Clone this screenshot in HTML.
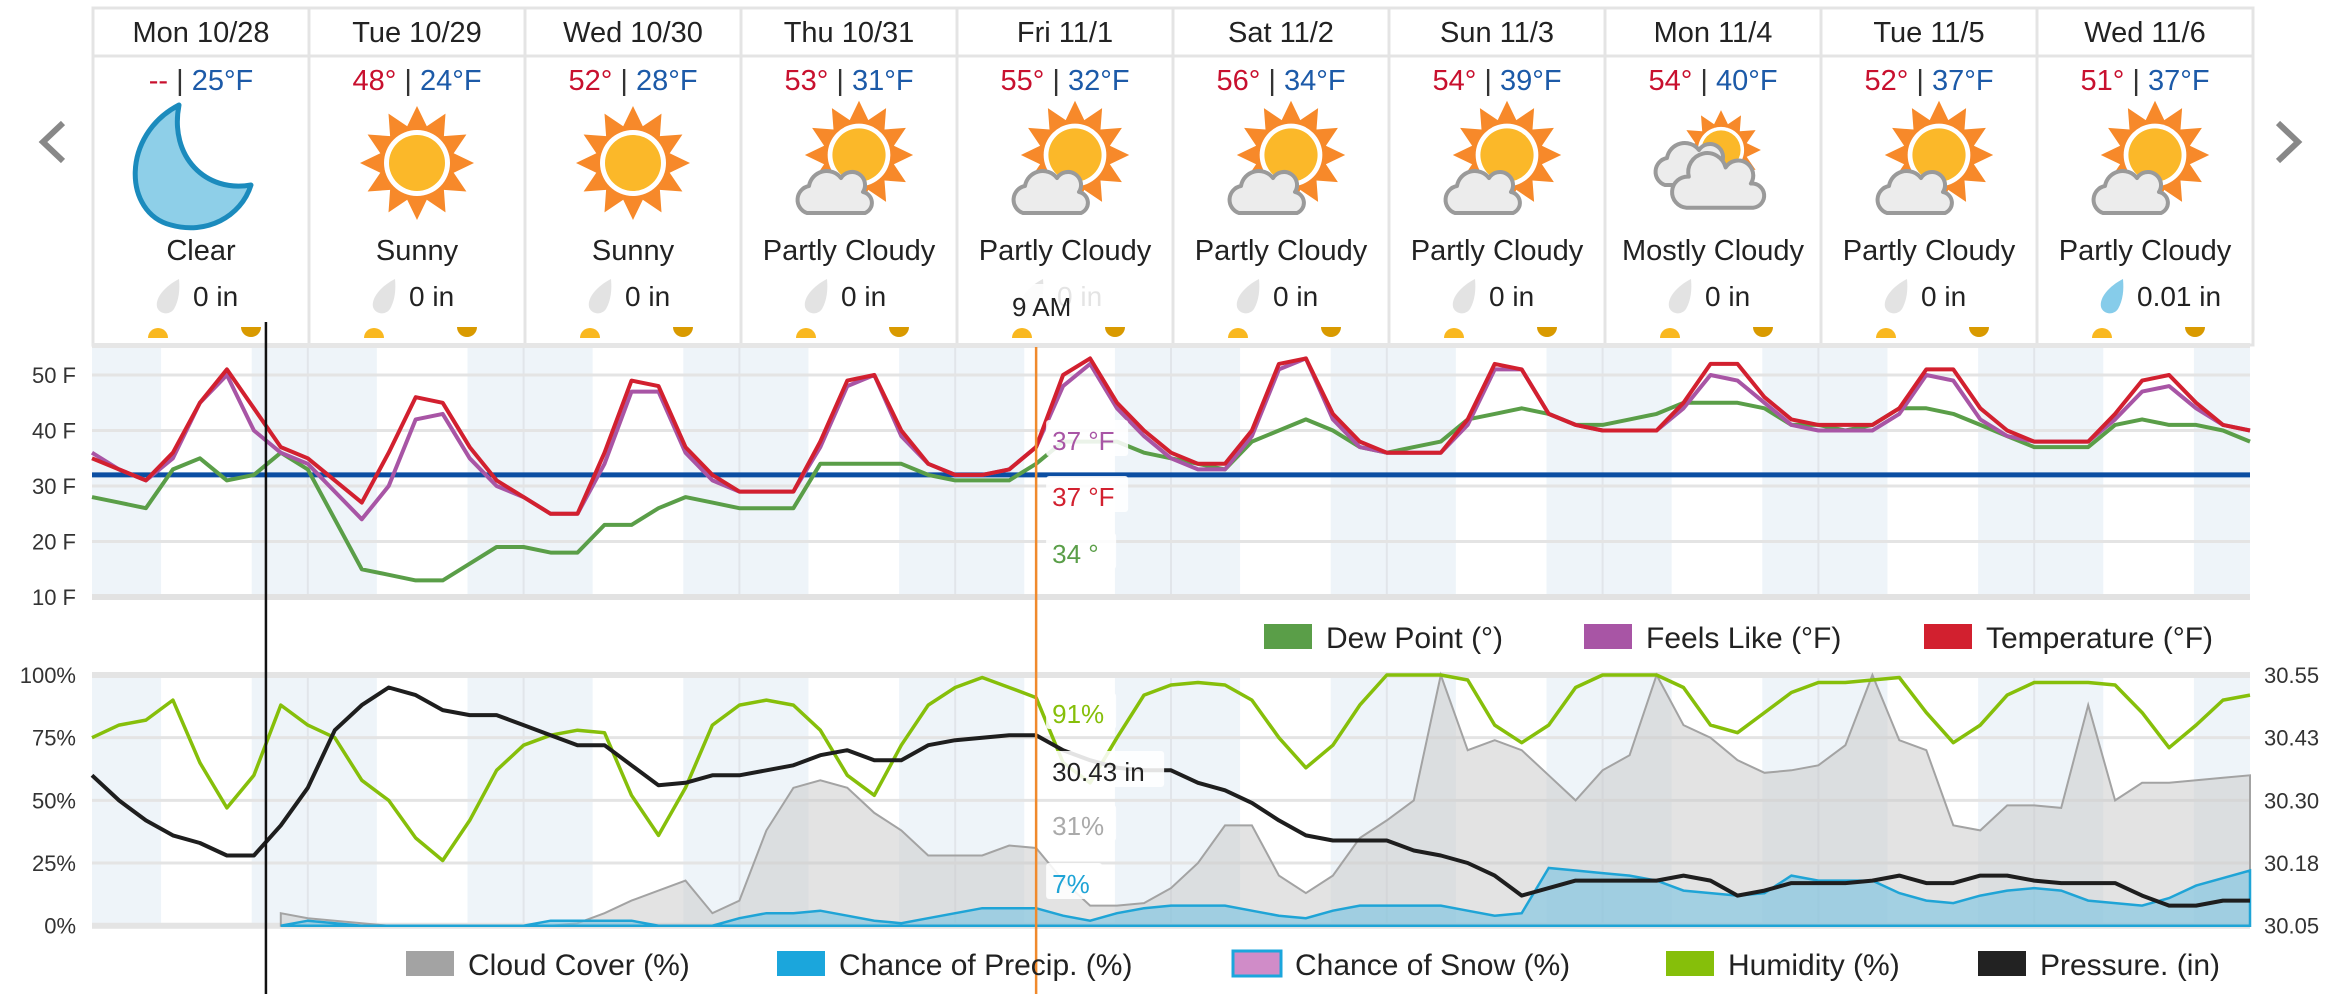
<!DOCTYPE html>
<html><head><meta charset="utf-8">
<style>
html,body{margin:0;padding:0;background:#fff;}
body{width:2342px;height:994px;position:relative;overflow:hidden;font-family:"Liberation Sans",sans-serif;}
svg{position:absolute;left:0;top:0;}
text{font-family:"Liberation Sans",sans-serif;}
</style></head>
<body>
<svg id="chart" width="2342" height="994" viewBox="0 0 2342 994"></svg>
<script>
// ---------- header data ----------
const dayNames=["Mon 10/28","Tue 10/29","Wed 10/30","Thu 10/31","Fri 11/1","Sat 11/2","Sun 11/3","Mon 11/4","Tue 11/5","Wed 11/6"];
const highs=["--","48°","52°","53°","55°","56°","54°","54°","52°","51°"];
const lows=["25°F","24°F","28°F","31°F","32°F","34°F","39°F","40°F","37°F","37°F"];
const conds=["Clear","Sunny","Sunny","Partly Cloudy","Partly Cloudy","Partly Cloudy","Partly Cloudy","Mostly Cloudy","Partly Cloudy","Partly Cloudy"];
const precipAmt=["0 in","0 in","0 in","0 in","0 in","0 in","0 in","0 in","0 in","0.01 in"];
// ---------- series, 3-hourly from Mon 10/28 00:00 ----------
const temperature=[35,33,31,36,45,51,44,37, 35,31,27,36,46,45,37,31, 28,25,25,36,49,48,37,32, 29,29,29,38,49,50,40,34, 32,32,33,37,50,53,45,40, 36,34,34,40,52,53,43,38, 36,36,36,42,52,51,43,41, 40,40,40,45,52,52,46,42, 41,41,41,44,51,51,44,40, 38,38,38,43,49,50,45,41, 40];
const feelsLike=[36,33,31,35,45,50,40,36, 34,29,24,30,42,43,35,30, 28,25,25,34,47,47,36,31, 29,29,29,37,48,50,39,34, 32,32,33,37,48,52,44,39, 35,33,33,39,51,53,42,37, 36,36,36,41,51,51,43,41, 40,40,40,44,50,49,45,41, 40,40,40,43,50,49,42,39, 38,38,38,42,47,48,44,41, 40];
const dewPoint=[28,27,26,33,35,31,32,36, 33,24,15,14,13,13,16,19, 19,18,18,23,23,26,28,27, 26,26,26,34,34,34,34,32, 31,31,31,34,38,38,38,36, 35,34,33,38,40,42,40,37, 36,37,38,42,43,44,43,41, 41,42,43,45,45,45,44,41, 41,40,41,44,44,43,41,39, 37,37,37,41,42,41,41,40, 38];
const humidity=[75,80,82,90,65,47,60,88, 80,75,58,50,35,26,42,62, 72,76,78,77,52,36,55,80, 88,90,88,78,60,52,72,88, 95,99,95,91,65,57,75,92, 96,97,96,90,75,63,72,88, 100,100,100,98,80,73,80,95, 100,100,100,95,80,77,85,93, 97,97,98,99,85,73,80,92, 97,97,97,96,85,71,80,90, 92];
const pressure=[30.35,30.30,30.26,30.23,30.215,30.19,30.19,30.25, 30.325,30.44,30.49,30.525,30.51,30.48,30.47,30.47, 30.45,30.43,30.41,30.41,30.37,30.33,30.335,30.35, 30.35,30.36,30.37,30.39,30.40,30.38,30.38,30.41, 30.42,30.425,30.43,30.43,30.40,30.38,30.365,30.36, 30.36,30.335,30.32,30.295,30.26,30.23,30.22,30.22, 30.22,30.20,30.19,30.175,30.15,30.11,30.125,30.14, 30.14,30.14,30.14,30.15,30.14,30.11,30.12,30.135, 30.135,30.135,30.14,30.15,30.135,30.135,30.15,30.15, 30.14,30.135,30.135,30.135,30.11,30.09,30.09,30.10, 30.10];
const cloudCover=[null,null,null,null,null,null,null,5, 3,2,1,0,0,0,0,0, 0,0,1,5,10,14,18,5, 10,38,55,58,55,45,38,28, 28,28,32,31,18,8,8,9, 15,25,40,40,20,13,20,35, 42,50,100,70,74,70,60,50, 62,68,100,80,75,66,61,62, 64,72,100,74,70,40,38,48, 48,47,88,50,57,57,58,59, 60];
const precipChance=[null,null,null,null,null,null,null,0, 2,1,0,0,0,0,0,0, 0,2,2,2,2,0,0,0, 3,5,5,6,4,2,1,3, 5,7,7,7,4,2,5,7, 8,8,8,6,4,3,6,8, 8,8,8,6,4,5,23,22, 21,20,18,14,13,12,13,20, 18,18,18,13,10,9,12,14, 15,14,10,9,8,11,16,19, 22];
const tempTicks=[50,40,30,20,10];
const pctTicks=[100,75,50,25,0];
const pressTicks=["30.55","30.43","30.30","30.18","30.05"];
const freezing=32;
const nowDay=0.806, hoverDay=4.375;

// ---------- axes ----------
const X0=92, DAYW=215.8, STEP=1/8;
function X(t){return X0+t*DAYW;}
function Y1(f){return 375-(f-50)*5.55;}
function Y2(p){return 925.7-p*2.507;}
function YP(v){return Y2((v-30.05)/0.5*100);}

const svg=document.getElementById('chart');
const NS="http://www.w3.org/2000/svg";
function mk(tag,attrs,parent){const e=document.createElementNS(NS,tag);for(const k in attrs)e.setAttribute(k,attrs[k]);(parent||svg).appendChild(e);return e;}

// ---------- header cards ----------
function sunIcon(cx,cy,s){
  let pts=[];for(let i=0;i<24;i++){const a=-Math.PI/2+i*Math.PI/12;const r=i%2?38*s:57*s;pts.push((cx+r*Math.cos(a)).toFixed(1)+","+(cy+r*Math.sin(a)).toFixed(1));}
  return `<polygon points="${pts.join(' ')}" fill="#f7892a"/><circle cx="${cx}" cy="${cy}" r="${33*s}" fill="#fff"/><circle cx="${cx}" cy="${cy}" r="${28*s}" fill="#fbb829"/>`;
}
function cloudIcon(cx,cy,s){
  return `<path d="M${cx-30*s},${cy+18*s} a14,14 0 0 1 ${2*s},${-27*s} a18,18 0 0 1 ${32*s},${-8*s} a13,13 0 0 1 ${22*s},${14*s} a11,11 0 0 1 ${2*s},${21*s} z" fill="#ececec" stroke="#9a9a9a" stroke-width="${4}" stroke-linejoin="round"/>`;
}
for(let i=0;i<10;i++){
  const g=mk('g',{});
  
  
  const L=93+216*i, C=L+108;
  mk('rect',{x:L,y:8,width:216,height:48,fill:'#fff',stroke:'#e4e4e4','stroke-width':3},g);
  mk('rect',{x:L,y:56,width:216,height:289,fill:'#fff',stroke:'#e4e4e4','stroke-width':3},g);
  const dn=mk('text',{x:C,y:42,'text-anchor':'middle','font-size':29,fill:'#222'},g);dn.textContent=dayNames[i];
  
  const tt=mk('text',{x:C,y:90,'text-anchor':'middle','font-size':29},g);
  
  tt.innerHTML=`<tspan fill="#c8102e">${highs[i]}</tspan><tspan fill="#333"> | </tspan><tspan fill="#1c5aa8">${lows[i]}</tspan>`;
  const ic=mk('g',{},g);
  const icx=C, icy=165;
  if(conds[i]==="Clear"){
    ic.innerHTML=`<path d="M${icx-22},${icy-60} C${icx-80},${icy-30} ${icx-78},${icy+48} ${icx-30},${icy+60} C${icx+5},${icy+70} ${icx+40},${icy+52} ${icx+50},${icy+20} C${icx+5},${icy+28} ${icx-32},${icy-8} ${icx-22},${icy-60} z" fill="#8ecfe8" stroke="#1b8bbd" stroke-width="5" stroke-linejoin="round"/>`;
  }else if(conds[i]==="Sunny"){ic.innerHTML=sunIcon(icx,icy-2,1);}
  else if(conds[i]==="Partly Cloudy"){ic.innerHTML=sunIcon(icx+10,icy-10,0.95)+cloudIcon(icx-12,icy+30,1);}
  else {ic.innerHTML=sunIcon(icx+8,icy-15,0.7)+cloudIcon(icx-18,icy+2,1)+cloudIcon(icx+8,icy+22,1.15);}
  const cd=mk('text',{x:C,y:260,'text-anchor':'middle','font-size':29,fill:'#222'},g);cd.textContent=conds[i];
  
  const wet=precipAmt[i]!=="0 in";
  const dr=mk('path',{d:''},g);
  dr.setAttribute('d',`M${L+86},${279} C${L+72},${286} ${L+62},${298} ${L+64},${307} C${L+66},${314} ${L+76},${316} ${L+81},${309} C${L+86},${300} ${L+87},${290} ${L+86},${279} z`);
  dr.setAttribute('fill',wet?'#86ccea':'#e3e3e3');
  
  const pa=mk('text',{x:L+100,y:306,'font-size':28,fill:'#222'},g);pa.textContent=precipAmt[i];
  
  const sr=mk('path',{d:`M${L+55},338 a10,10 0 0 1 20,0 z`,fill:'#f9b820'},g);
  
  const ss=mk('path',{d:`M${L+148},327 a10,10 0 0 0 20,0 z`,fill:'#d99a00'},g);
  
}
// nav arrows
const la=mk('polyline',{points:'63,123 43,142 63,161',fill:'none',stroke:'#888','stroke-width':6});

const ra=mk('polyline',{points:'2278,123 2298,142 2278,161',fill:'none',stroke:'#888','stroke-width':6});


// ---------- plot backgrounds ----------
function background(top,bottom,name){
  const g=mk('g',{});
  mk('rect',{x:X(0),y:top,width:X(10)-X(0),height:bottom-top,fill:'#fff'},g);
  for(let d=0;d<=10;d++){
    const a=d===0?0:d-1+0.74, b=d+0.32;
    const s=Math.max(a,0), e=Math.min(b,10);
    if(e>s) mk('rect',{x:X(s),y:top,width:X(e)-X(s),height:bottom-top,fill:'#eef4f9'},g);
  }
  for(let d=1;d<10;d++) mk('line',{x1:X(d),x2:X(d),y1:top,y2:bottom,stroke:'#e1e5ea','stroke-width':2},g);
}
background(347,597,'temp-plot-background');
background(672,926,'percent-plot-background');
mk('rect',{x:X(0),y:343,width:X(10)-X(0),height:5,fill:'#e6e6e6'});

// ---------- grid & ticks ----------
tempTicks.forEach(v=>{
  mk('line',{x1:X(0),x2:X(10),y1:Y1(v),y2:Y1(v),stroke:v===10?'#e2e2e2':'#e4e4e4','stroke-width':v===10?6:3});
  const t=mk('text',{x:76,y:Y1(v)+8,'text-anchor':'end','font-size':22,fill:'#333'});t.textContent=v+" F";
  
});
pctTicks.forEach((v,k)=>{
  mk('line',{x1:X(0),x2:X(10),y1:Y2(v),y2:Y2(v),stroke:'#e4e4e4','stroke-width':v===0||v===100?6:3});
  const t=mk('text',{x:76,y:Y2(v)+8,'text-anchor':'end','font-size':22,fill:'#333'});t.textContent=v+"%";
  
  const r=mk('text',{x:2264,y:Y2(v)+8,'font-size':22,fill:'#333'});r.textContent=pressTicks[k];
  
});

// ---------- series ----------
function linePath(arr,yf){let d="";let started=false;arr.forEach((v,i)=>{if(v===null)return;d+=(started?"L":"M")+X(i*STEP).toFixed(1)+","+yf(v).toFixed(1);started=true;});return d;}
function areaPath(arr,yf,base){let first=-1,last=-1;arr.forEach((v,i)=>{if(v!==null){if(first<0)first=i;last=i;}});return linePath(arr,yf)+"L"+X(last*STEP).toFixed(1)+","+base+"L"+X(first*STEP).toFixed(1)+","+base+"Z";}

const ca=mk('path',{d:areaPath(cloudCover,Y2,Y2(0)),fill:'rgba(200,200,200,0.5)',stroke:'#a3a3a3','stroke-width':2});

const pa2=mk('path',{d:areaPath(precipChance,Y2,Y2(0)),fill:'rgba(120,195,225,0.6)',stroke:'#1fa4d6','stroke-width':2.5});

const hl=mk('path',{d:linePath(humidity,Y2),fill:'none',stroke:'#86bf0a','stroke-width':3.5,'stroke-linejoin':'round'});

const pl=mk('path',{d:linePath(pressure,YP),fill:'none',stroke:'#1e1e1e','stroke-width':4,'stroke-linejoin':'round'});


const fz=mk('line',{x1:X(0),x2:X(10),y1:Y1(freezing),y2:Y1(freezing),stroke:'#0b4ea2','stroke-width':5});

const dl=mk('path',{d:linePath(dewPoint,Y1),fill:'none',stroke:'#5a9e48','stroke-width':4,'stroke-linejoin':'round'});

const fl=mk('path',{d:linePath(feelsLike,Y1),fill:'none',stroke:'#a855a5','stroke-width':4,'stroke-linejoin':'round'});

const tl=mk('path',{d:linePath(temperature,Y1),fill:'none',stroke:'#d2202f','stroke-width':4,'stroke-linejoin':'round'});


// ---------- cursors ----------
const nl=mk('line',{x1:X(nowDay),x2:X(nowDay),y1:322,y2:994,stroke:'#111','stroke-width':2.5});

const hvx=X(hoverDay);
const ol=mk('line',{x1:hvx,x2:hvx,y1:347,y2:994,stroke:'#f08a2c','stroke-width':2.5});


function tip(x,y,w,h,txt,col,name){
  mk('rect',{x:x-6,y:y-h+6,width:w,height:h,fill:'rgba(255,255,255,0.88)',rx:3});
  const t=mk('text',{x:x,y:y,'font-size':26,fill:col});t.textContent=txt;
  
}
tip(1012,316,96,38,"9 AM","#222","hover-time-label");
tip(hvx+16,450,82,36,"37 °F","#a855a5","feels-like-value");
tip(hvx+16,506,82,36,"37 °F","#d2202f","temperature-value");
tip(hvx+16,563,70,36,"34 °","#5a9e48","dew-point-value");
tip(hvx+16,723,70,36,"91%","#86bf0a","humidity-value");
tip(hvx+16,781,118,36,"30.43 in","#222","pressure-value");
tip(hvx+16,835,70,36,"31%","#aaa","cloud-cover-value");
tip(hvx+16,893,56,36,"7%","#1fa4d6","precip-chance-value");

// ---------- legends ----------
function legend(x,y,fill,stroke,label,name){
  const g=mk('g',{});
  mk('rect',{x:x,y:y-23,width:48,height:25,fill:fill,stroke:stroke||'none','stroke-width':stroke?3:0},g);
  const t=mk('text',{x:x+62,y:y+1,'font-size':30,fill:'#222'},g);t.textContent=label;
}
legend(1264,647,'#5a9e48',null,'Dew Point (°)','legend-dew-point');
legend(1584,647,'#a855a5',null,'Feels Like (°F)','legend-feels-like');
legend(1924,647,'#d2202f',null,'Temperature (°F)','legend-temperature');
legend(406,974,'#a3a3a3',null,'Cloud Cover (%)','legend-cloud-cover');
legend(777,974,'#1ba6dc',null,'Chance of Precip. (%)','legend-precip-chance');
legend(1233,974,'#d08cc8','#1ba6dc','Chance of Snow (%)','legend-snow-chance');
legend(1666,974,'#86bf0a',null,'Humidity (%)','legend-humidity');
legend(1978,974,'#222',null,'Pressure. (in)','legend-pressure');
</script>
</body></html>
